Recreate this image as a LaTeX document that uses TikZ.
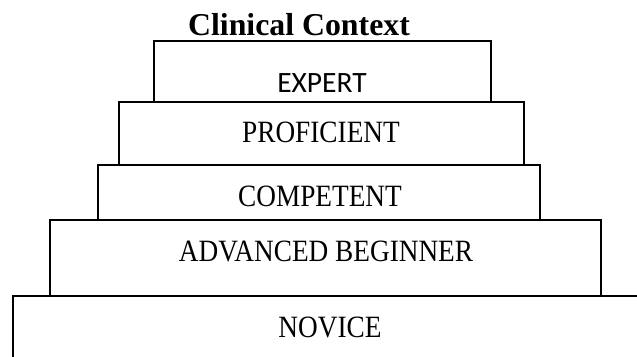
\documentclass[tikz,border=0pt]{standalone}
\usepackage{fontspec}
\setmainfont{Liberation Serif}
\newfontfamily\levelfont[FakeStretch=0.88]{Liberation Serif}
\newfontfamily\topfont{Carlito}
\usepackage{tikz}
\usetikzlibrary{positioning}
\tikzset{
  tier/.style={
    draw=black,line width=1.2pt,inner sep=0pt,outer sep=0pt,anchor=north west,
  },
  tiertext/.style={
    anchor=base,inner sep=0pt,font=\levelfont\fontsize{31}{34}\selectfont,
  },
}

\begin{document}
\begin{tikzpicture}[x=1pt,y=-1pt]
      \useasboundingbox (0,0) rectangle (637,356);
      \node (title) [anchor=base,inner sep=0pt,font=\bfseries\fontsize{31.8}{36}\selectfont] at (299,35) { Clinical Context };

      \node[tier,minimum width=337pt,minimum height=61pt] (expert) at (154,41) {};
      \node[tier,minimum width=405pt,minimum height=63pt] (proficient) at (119,102) {};
      \node[tier,minimum width=442pt,minimum height=55pt] (competent) at (98,165) {};
      \node[tier,minimum width=551pt,minimum height=76pt] (advanced) at (50,220) {};
      \node[tier,minimum width=660pt,minimum height=80pt] (novice) at (13,296) {};

      \node[tiertext,font=\topfont\fontsize{29.5}{32}\selectfont] (expertlbl) at (322,92) { EXPERT };
      \node[tiertext] (proficientlbl) at (321,142) { PROFICIENT };
      \node[tiertext] (competentlbl) at (320,206) { COMPETENT };
      \node[tiertext] (advancedlbl) at (326,261) { ADVANCED BEGINNER };
      \node[tiertext] (novicelbl) at (330,337) { NOVICE };
\end{tikzpicture}
\end{document}
